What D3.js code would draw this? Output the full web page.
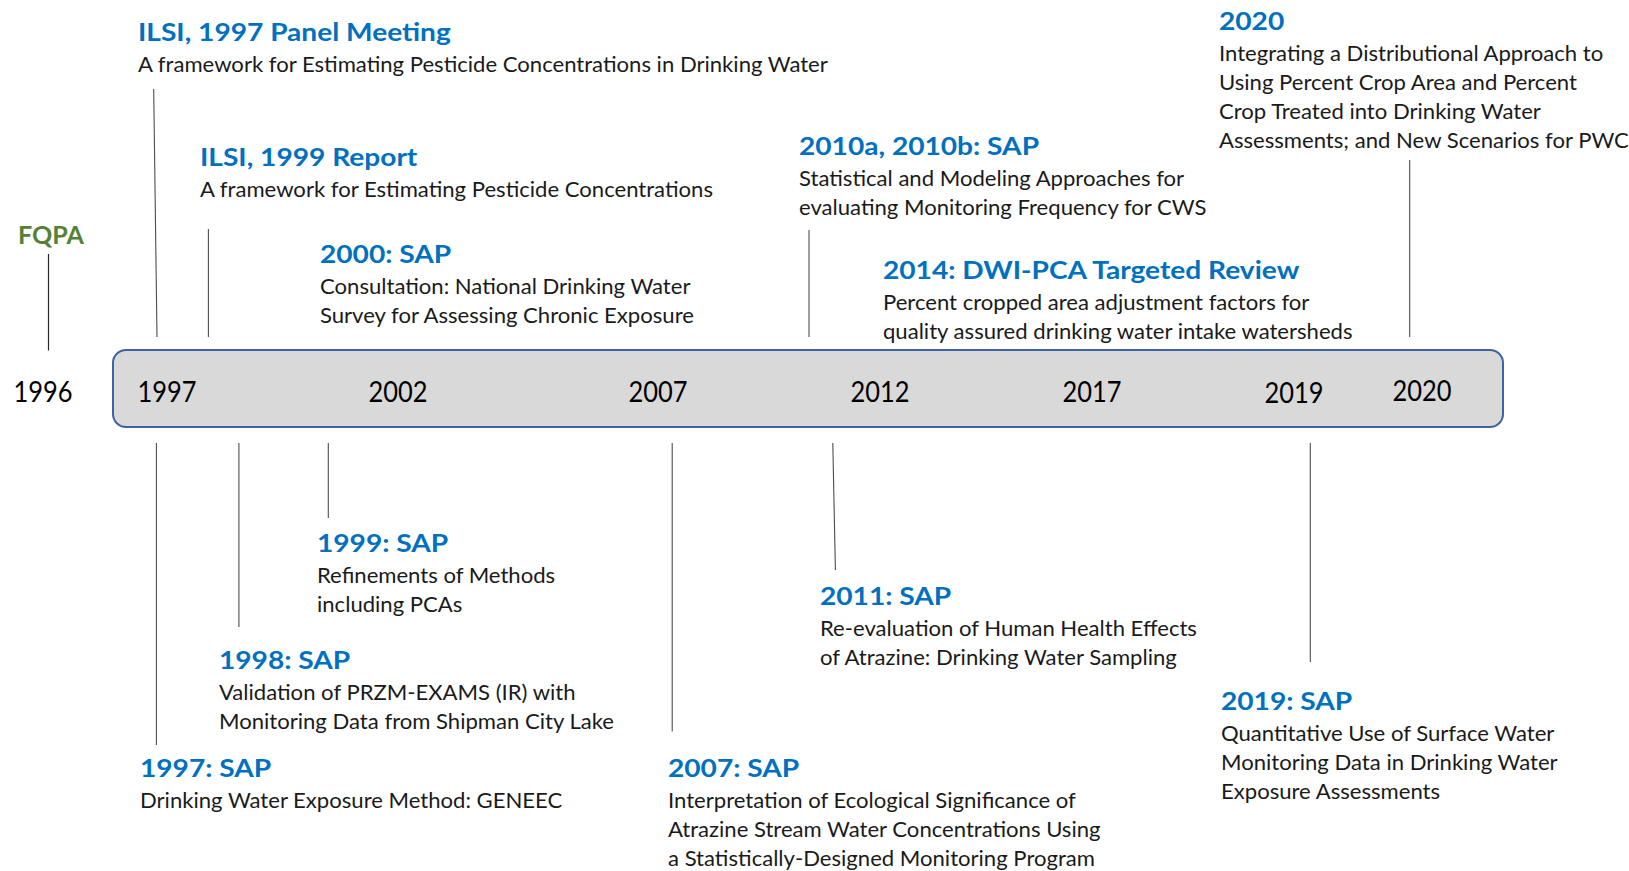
<!DOCTYPE html>
<html><head><meta charset="utf-8">
<script src="https://cdn.jsdelivr.net/npm/d3@7"></script>
<style>html,body{margin:0;padding:0;background:#fff;overflow:hidden;} svg{display:block;}</style>
</head><body><svg id="chart" width="1629" height="871"></svg>
<script>
// ---------------- DATA ----------------
const outsideYear = "1996";
const tickYears = ["1997", "2002", "2007", "2012", "2017", "2019", "2020"];
const milestoneLabel = "FQPA";

const eventTitles = [
  "ILSI, 1997 Panel Meeting",
  "ILSI, 1999 Report",
  "2000: SAP",
  "2010a, 2010b: SAP",
  "2014: DWI-PCA Targeted Review",
  "2020",
  "1997: SAP",
  "1998: SAP",
  "1999: SAP",
  "2007: SAP",
  "2011: SAP",
  "2019: SAP"
];
const eventDescriptions = [
  ["A framework for Estimating Pesticide Concentrations in Drinking Water"],
  ["A framework for Estimating Pesticide Concentrations"],
  ["Consultation: National Drinking Water", "Survey for Assessing Chronic Exposure"],
  ["Statistical and Modeling Approaches for", "evaluating Monitoring Frequency for CWS"],
  ["Percent cropped area adjustment factors for", "quality assured drinking water intake watersheds"],
  ["Integrating a Distributional Approach to", "Using Percent Crop Area and Percent", "Crop Treated into Drinking Water", "Assessments; and New Scenarios for PWC"],
  ["Drinking Water Exposure Method: GENEEC"],
  ["Validation of PRZM-EXAMS (IR) with", "Monitoring Data from Shipman City Lake"],
  ["Refinements of Methods", "including PCAs"],
  ["Interpretation of Ecological Significance of", "Atrazine Stream Water Concentrations Using", "a Statistically-Designed Monitoring Program"],
  ["Re-evaluation of Human Health Effects", "of Atrazine: Drinking Water Sampling"],
  ["Quantitative Use of Surface Water", "Monitoring Data in Drinking Water", "Exposure Assessments"]
];
const eventSides = ["above","above","above","above","above","above","below","below","below","below","below","below"];
const eventHasConnector = [true, true, false, true, false, true, true, true, true, true, true, true];

// ---------------- LAYOUT (free-form diagram placement) ----------------
const W = 1629, H = 871;
const bar = {x0: 113, x1: 1503, y0: 350, y1: 427, r: 13};
const xYear = d3.scaleOrdinal()
  .domain([outsideYear, ...tickYears])
  .range([43, 167, 398, 658, 880, 1092, 1294, 1422]);
const yearBaseline = d3.scaleOrdinal()
  .domain([outsideYear, ...tickYears])
  .range([401.5, 401.5, 401.5, 401.5, 401.5, 401.5, 403, 400.5]);

// text anchor positions for each event (x of text block, baseline of title)
const textX  = d3.scaleOrdinal().domain(eventTitles).range([138, 200, 320, 799, 883, 1219, 140, 219, 317, 668, 820, 1221]);
const titleY = d3.scaleOrdinal().domain(eventTitles).range([40.5, 166, 263, 155, 278.5, 30.3, 776.5, 669, 552, 776.5, 605, 709.5]);
// connector lines: [x at far end, x at bar end, far y]
const connFarX  = d3.scaleOrdinal().domain(eventTitles).range([153.7, 208.4, 0, 809, 0, 1409.7, 156.4, 238.9, 328.3, 672.2, 835.4, 1310.3]);
const connNearX = d3.scaleOrdinal().domain(eventTitles).range([157, 208.4, 0, 809, 0, 1409.7, 156.4, 238.9, 328.3, 672.2, 832.8, 1310.3]);
const connFarY  = d3.scaleOrdinal().domain(eventTitles).range([89, 229, 0, 230, 0, 160, 745, 627, 518, 731.5, 570, 662]);
const connAboveY = 337, connBelowY = 443;

const fqpa = {x: 51, y: 244, lineX: 48.5, lineY0: 254, lineY1: 350.5};

// ---------------- STYLE ----------------
const FONT = "Lato, 'Open Sans', 'DejaVu Sans', sans-serif";
const BLUE = "#0070C0", GREEN = "#538135", TEXT = "#1a1a1a";
const bodySize = 21, titleSize = 25.5, yearSize = 28, fqpaSize = 24.5;
const bodyGap = 31, bodyLine = 29;

const svg = d3.select("#chart");
svg.append("rect").attr("width", W).attr("height", H).attr("fill", "#ffffff");

function measure(str, size, weight) {
  const t = svg.append("text").attr("font-family", FONT).attr("font-size", size)
    .attr("font-weight", weight).text(str);
  const w = t.node().getComputedTextLength();
  t.remove();
  return w;
}
// horizontal compression so the substitute font matches the original's narrower letterforms
const bodySx  = 690 / measure(eventDescriptions[0][0], bodySize, 400);
const titleSx = 313 / measure(eventTitles[0], titleSize, 700);
const yearSx  = 59 / measure(outsideYear, yearSize, 400);
const fqpaSx  = 66 / measure(milestoneLabel, fqpaSize, 700);

function label(g, x, y, str, size, weight, color, sx, anchor) {
  return g.append("text")
    .attr("transform", `translate(${x},${y}) scale(${sx},1)`)
    .attr("font-family", FONT).attr("font-size", size).attr("font-weight", weight)
    .attr("fill", color).attr("text-anchor", anchor || "start")
    .text(str);
}

// ---------------- TIMELINE BAR ----------------
svg.append("rect")
  .attr("x", bar.x0).attr("y", bar.y0)
  .attr("width", bar.x1 - bar.x0).attr("height", bar.y1 - bar.y0)
  .attr("rx", bar.r).attr("ry", bar.r)
  .attr("fill", "#d9d9d9").attr("stroke", "#3d63a6").attr("stroke-width", 2);

const yearG = svg.append("g");
[outsideYear, ...tickYears].forEach(y => {
  label(yearG, xYear(y), yearBaseline(y), y, yearSize, 400, "#000", yearSx, "middle");
});

// ---------------- FQPA ----------------
const fq = svg.append("g");
fq.append("line").attr("x1", fqpa.lineX).attr("x2", fqpa.lineX)
  .attr("y1", fqpa.lineY0).attr("y2", fqpa.lineY1)
  .attr("stroke", "#262626").attr("stroke-width", 1.2);
label(fq, fqpa.x, fqpa.y, milestoneLabel, fqpaSize, 700, GREEN, fqpaSx, "middle");

// ---------------- EVENTS ----------------
const evG = svg.append("g");
eventTitles.forEach((t, i) => {
  const g = evG.append("g");
  if (eventHasConnector[i]) {
    g.append("line")
      .attr("x1", connFarX(t)).attr("y1", connFarY(t))
      .attr("x2", connNearX(t)).attr("y2", eventSides[i] === "above" ? connAboveY : connBelowY)
      .attr("stroke", "#4d4d4d").attr("stroke-width", 1.1);
  }
  label(g, textX(t), titleY(t), t, titleSize, 700, BLUE, titleSx);
  eventDescriptions[i].forEach((line, j) => {
    label(g, textX(t), titleY(t) + bodyGap + j * bodyLine, line, bodySize, 400, TEXT, bodySx);
  });
});
</script>
</body></html>
